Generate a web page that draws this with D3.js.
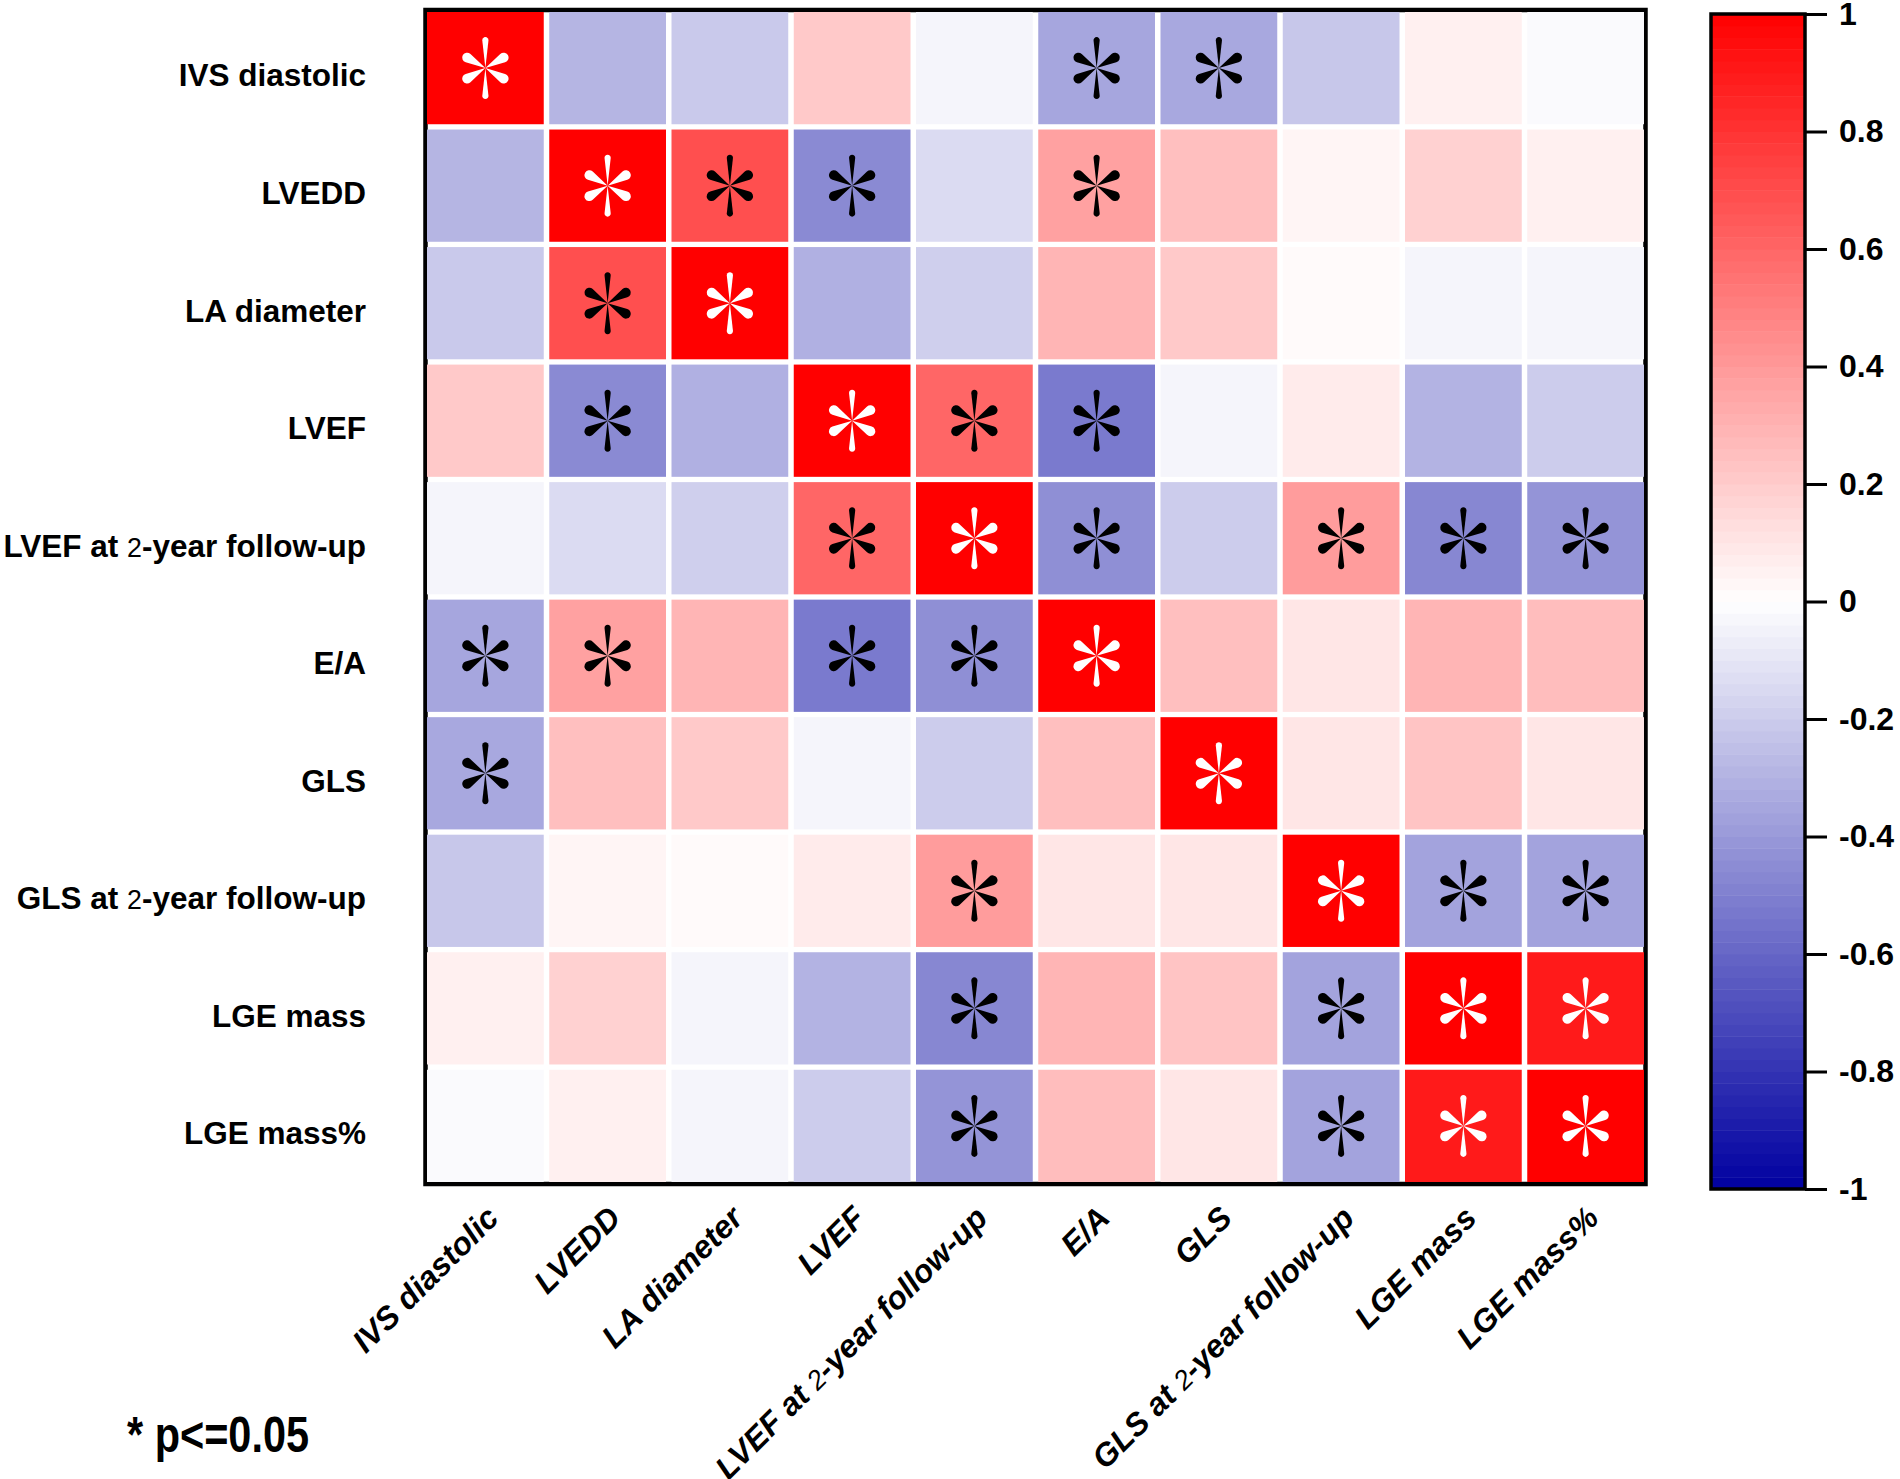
<!DOCTYPE html>
<html>
<head>
<meta charset="utf-8">
<script src="https://cdn.jsdelivr.net/npm/d3@7"></script>
<style>
  body { margin: 0; background: #fff; }
  text { font-family: "Liberation Sans", Arial, sans-serif; font-weight: bold; }
</style>
</head>
<body>
<svg id="chart" width="1900" height="1479"></svg>
<script>
// variables (same order for rows and columns)
const variables = ["IVS diastolic", "LVEDD", "LA diameter", "LVEF", "LVEF at 2-year follow-up",
  "E/A", "GLS", "GLS at 2-year follow-up", "LGE mass", "LGE mass%"];

// correlation coefficients
const corr = [
  [ 1.00, -0.29, -0.21,  0.21, -0.04, -0.35, -0.34, -0.22,  0.06, -0.02],
  [-0.29,  1.00,  0.69, -0.46, -0.14,  0.37,  0.25,  0.04,  0.18,  0.06],
  [-0.21,  0.69,  1.00, -0.31, -0.19,  0.29,  0.21,  0.02, -0.04, -0.04],
  [ 0.21, -0.46, -0.31,  1.00,  0.60, -0.52, -0.04,  0.08, -0.30, -0.20],
  [-0.04, -0.14, -0.19,  0.60,  1.00, -0.44, -0.20,  0.39, -0.47, -0.42],
  [-0.35,  0.37,  0.29, -0.52, -0.44,  1.00,  0.25,  0.10,  0.29,  0.26],
  [-0.34,  0.25,  0.21, -0.04, -0.20,  0.25,  1.00,  0.10,  0.23,  0.10],
  [-0.22,  0.04,  0.02,  0.08,  0.39,  0.10,  0.10,  1.00, -0.36, -0.36],
  [ 0.06,  0.18, -0.04, -0.30, -0.47,  0.29,  0.23, -0.36,  1.00,  0.90],
  [-0.02,  0.06, -0.04, -0.20, -0.42,  0.26,  0.10, -0.36,  0.90,  1.00]
];

// 1 = p<=0.05
const sig = [
  [1,0,0,0,0,1,1,0,0,0],
  [0,1,1,1,0,1,0,0,0,0],
  [0,1,1,0,0,0,0,0,0,0],
  [0,1,0,1,1,1,0,0,0,0],
  [0,0,0,1,1,1,0,1,1,1],
  [1,1,0,1,1,1,0,0,0,0],
  [1,0,0,0,0,0,1,0,0,0],
  [0,0,0,0,1,0,0,1,1,1],
  [0,0,0,0,1,0,0,1,1,1],
  [0,0,0,0,1,0,0,1,1,1]
];

const colorbarTicks = [1, 0.8, 0.6, 0.4, 0.2, 0, -0.2, -0.4, -0.6, -0.8, -1];

const svg = d3.select("#chart");

const grid = { left: 427, top: 12, right: 1644, bottom: 1182 };

const x = d3.scaleBand().domain(d3.range(variables.length))
  .range([grid.left, grid.right]).paddingInner(0.045).paddingOuter(0);
const y = d3.scaleBand().domain(d3.range(variables.length))
  .range([grid.top, grid.bottom]).paddingInner(0.045).paddingOuter(0);

const color = d3.scaleLinear().domain([-1, 0, 1])
  .range(["#0000a0", "#ffffff", "#ff0000"]);

const cells = [];
corr.forEach((row, i) => row.forEach((v, j) => cells.push({ i, j, v, s: sig[i][j] })));

// frame
svg.append("rect")
  .attr("x", grid.left - 1.5).attr("y", grid.top - 2)
  .attr("width", grid.right - grid.left + 3).attr("height", grid.bottom - grid.top + 4)
  .attr("fill", "#fff").attr("stroke", "#000").attr("stroke-width", 4.5);

svg.append("g").selectAll("rect")
  .data(cells)
  .join("rect")
  .attr("x", d => x(d.j)).attr("y", d => y(d.i))
  .attr("width", x.bandwidth()).attr("height", y.bandwidth())
  .attr("fill", d => color(d.v));

// asterisk glyph: 6 teardrop petals
function petal(L, r) {
  const c = L - r;
  const a = Math.asin(r / c);
  const d = Math.sqrt(c * c - r * r);
  const tx = d * Math.cos(a), ty = d * Math.sin(a);
  return `M0,0L${tx},${-ty}A${r},${r} 0 1 1 ${tx},${ty}Z`;
}
const petals = [
  { rot: -90, d: petal(31, 3.1) },
  { rot: 90, d: petal(31, 3.1) },
  { rot: -30, d: petal(26, 4.9) },
  { rot: 30, d: petal(26, 4.9) },
  { rot: 150, d: petal(26, 4.9) },
  { rot: 210, d: petal(26, 4.9) }
];

const stars = svg.append("g").selectAll("g")
  .data(cells.filter(d => d.s))
  .join("g")
  .attr("transform", d => `translate(${x(d.j) + x.bandwidth() / 2},${y(d.i) + y.bandwidth() / 2})`)
  .attr("fill", d => d.v > 0.75 ? "#fff" : "#000");
stars.selectAll("path")
  .data(petals)
  .join("path")
  .attr("transform", p => `rotate(${p.rot})`)
  .attr("d", p => p.d);

// label with the smaller "2"
function fillLabel(sel) {
  sel.each(function(d) {
    const t = d3.select(this);
    const parts = d.split("2-year");
    t.append("tspan").text(parts[0]);
    if (parts.length > 1) {
      t.append("tspan").attr("font-weight", "normal").attr("font-size", "0.85em").text("2");
      t.append("tspan").text("-year" + parts[1]);
    }
  });
}

// row labels
svg.append("g").selectAll("text")
  .data(variables)
  .join("text")
  .attr("x", 366)
  .attr("y", (d, i) => y(i) + y.bandwidth() / 2 + 7)
  .attr("dy", "0.36em")
  .attr("text-anchor", "end")
  .attr("font-size", 31.5)
  .call(fillLabel);

// column labels
svg.append("g").selectAll("text")
  .data(variables)
  .join("text")
  .attr("transform", (d, i) => `translate(${x(i) + x.bandwidth() / 2 + 15},${grid.bottom + 38}) rotate(-45)`)
  .attr("text-anchor", "end")
  .attr("font-size", 32)
  .attr("font-style", "italic")
  .call(fillLabel);

// colour bar
const cb = { left: 1711, right: 1805, top: 14, bottom: 1189 };
const cy = d3.scaleLinear().domain([1, -1]).range([cb.top, cb.bottom]);
const bandStep = 0.02;
svg.append("g").selectAll("rect")
  .data(d3.range(-1, 1 - 1e-9, bandStep))
  .join("rect")
  .attr("x", cb.left).attr("width", cb.right - cb.left)
  .attr("y", d => cy(d + bandStep)).attr("height", d => cy(d) - cy(d + bandStep) + 0.5)
  .attr("fill", d => color(d + bandStep / 2));
svg.append("rect")
  .attr("x", cb.left).attr("y", cb.top)
  .attr("width", cb.right - cb.left).attr("height", cb.bottom - cb.top)
  .attr("fill", "none").attr("stroke", "#000").attr("stroke-width", 3.5);

const cAxis = svg.append("g")
  .attr("transform", `translate(${cb.right},0)`)
  .call(d3.axisRight(cy).tickValues(colorbarTicks).tickSize(22).tickPadding(12)
    .tickFormat(d => String(d)));
cAxis.select(".domain").remove();
cAxis.selectAll(".tick line").attr("stroke", "#000").attr("stroke-width", 3);
cAxis.selectAll(".tick text")
  .attr("fill", "#000")
  .style("font-family", "'Liberation Sans', Arial, sans-serif")
  .style("font-weight", "bold")
  .style("font-size", "32px");

// significance note
svg.append("text")
  .attr("x", 127).attr("y", 1452)
  .attr("font-size", 50)
  .attr("textLength", 182)
  .attr("lengthAdjust", "spacingAndGlyphs")
  .text("* p<=0.05");
</script>
</body>
</html>
